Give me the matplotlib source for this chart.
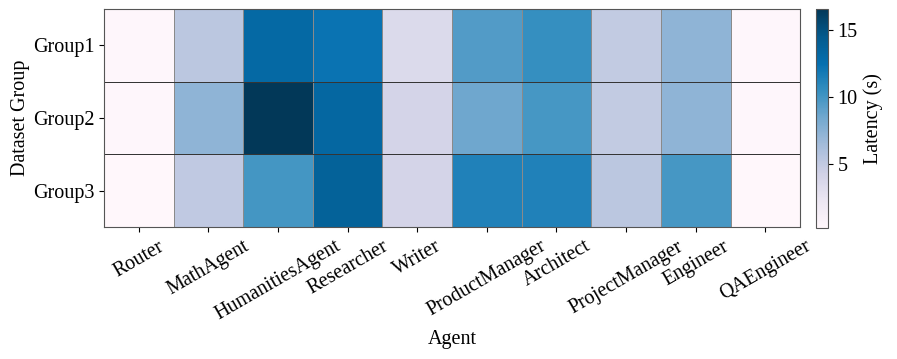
import numpy as np
import matplotlib
matplotlib.use('Agg')
from matplotlib import pyplot as plt

plt.rcParams['font.family'] = ['Liberation Serif', 'DejaVu Serif']

agents = ['Router', 'MathAgent', 'HumanitiesAgent', 'Researcher', 'Writer',
	'ProductManager', 'Architect', 'ProjectManager', 'Engineer', 'QAEngineer']
groups = ['Group1', 'Group2', 'Group3']

group1 = [0.3, 5.4, 13.2, 12.3, 3.5, 9.5, 10.5, 5.0, 7.3, 0.3]
group2 = [0.3, 7.3, 16.6, 13.4, 4.0, 8.6, 9.9, 5.0, 7.3, 0.3]
group3 = [0.22, 5.1, 10.0, 13.8, 4.0, 11.4, 11.4, 5.4, 9.9, 0.25]

latency = np.array([group1, group2, group3])

fig = plt.figure(figsize=(8.97, 3.59), dpi=100)
ax = fig.add_axes([0.116, 0.367, 0.776, 0.608])
cax = fig.add_axes([0.910, 0.364, 0.013, 0.611])

mesh = ax.pcolormesh(latency, cmap='PuBu', vmin=latency.min(), vmax=latency.max(),
	edgecolors='#8a8a8a', linewidth=0.4)
ax.set_xlim(0, len(agents))
ax.set_ylim(len(groups), 0)
for y in range(1, len(groups)):
	ax.axhline(y, color='#333333', linewidth=0.7)

fs = 14.5
ax.set_xticks(np.arange(len(agents)) + 0.5)
ax.set_xticklabels(agents, rotation=30, ha='center', fontsize=fs)
ax.set_yticks(np.arange(len(groups)) + 0.5)
ax.set_yticklabels(groups, fontsize=fs)
ax.set_xlabel('Agent', fontsize=fs)
ax.set_ylabel('Dataset Group', fontsize=fs, labelpad=2)
for s in ax.spines.values():
	s.set_color('#555555')

cb = fig.colorbar(mesh, cax=cax)
cb.set_ticks([5, 10, 15])
cb.ax.tick_params(labelsize=fs)
cb.set_label('Latency (s)', fontsize=fs)
cb.outline.set_edgecolor('#555555')

plt.savefig('out.png', dpi=100)
